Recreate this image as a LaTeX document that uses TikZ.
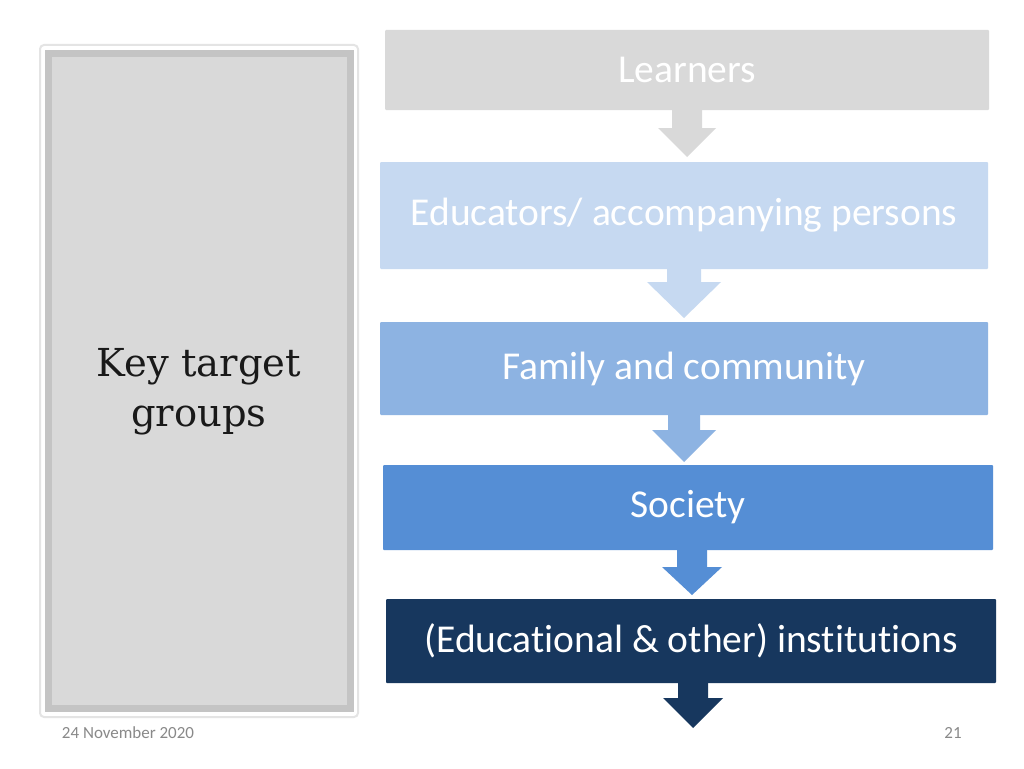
\documentclass[tikz,border=0pt]{standalone}
\usepackage{fontspec}
\setsansfont[Ligatures={NoCommon}]{Carlito}
\newfontfamily\keyfont{DejaVu Serif}
\usetikzlibrary{calc}
\definecolor{cLearn}{HTML}{D9D9D9}
\definecolor{cEdu}{HTML}{C6D9F1}
\definecolor{cFam}{HTML}{8DB3E2}
\definecolor{cSoc}{HTML}{558ED5}
\definecolor{cInst}{HTML}{17375E}
\definecolor{cBand}{HTML}{C4C4C4}
\definecolor{cFrame}{HTML}{E4E4E4}
\definecolor{cFoot}{HTML}{898989}
\tikzset{
  stage/.style={draw=none, inner sep=0pt, text=white, rounded corners=1pt,
    font=\sffamily\fontsize{39.5}{46}\selectfont},
  foot/.style={inner sep=0pt, text=cFoot, font=\sffamily\fontsize{17}{20}\selectfont},
}
% #1 from node, #2 tip coordinate, #3 colour, #4 shaft half width, #5 head half width, #6 head length
\newcommand\blockarrow[6]{%
  \fill[#3] ($(#2 |- #1.south)+(-#4,0)$) -- ($(#2 |- #1.south)+(#4,0)$)
    -- ($(#2)+(#4,-#6)$) -- ($(#2)+(#5,-#6)$) -- (#2)
    -- ($(#2)+(-#5,-#6)$) -- ($(#2)+(-#4,-#6)$) -- cycle;}
\begin{document}
\begin{tikzpicture}[x=1pt,y=-1pt]
\useasboundingbox[fill=white] (0,0) rectangle (1024,768);
% left panel
\draw[cFrame, line width=2pt, fill=white, rounded corners=4pt] (40,45) rectangle (358,717);
\fill[cBand] (45,50) rectangle (354,712);
\node[fill=cLearn, inner sep=0pt, minimum width=295, minimum height=648] (panel) at (199.5,381) {};
\node[align=center, inner sep=0pt, text=black!90, font=\keyfont\fontsize{38.5}{50}\selectfont] (kt) at (199,392) {Key target\\groups};
% stages
\node[stage, fill=cLearn, minimum width=604, minimum height=80] (b1) at (687,70) {Learners};
\node[stage, fill=cEdu, minimum width=608, minimum height=107] (b2) at (684,215.5) {Educators/ accompanying persons};
\node[stage, fill=cFam, minimum width=608, minimum height=93] (b3) at (684,368.5) {Family and community};
\node[stage, fill=cSoc, minimum width=610, minimum height=85] (b4) at (688,507.5) {Society};
\node[stage, fill=cInst, minimum width=610, minimum height=84] (b5) at (691,641) {(Educational \& other) institutions};
% arrow tips
\coordinate (t1) at (687,157);
\coordinate (t2) at (684,318);
\coordinate (t3) at (684,462);
\coordinate (t4) at (692,595);
\coordinate (t5) at (693,728);
\blockarrow{b1}{t1}{cLearn}{15}{29}{29}
\blockarrow{b2}{t2}{cEdu}{17}{37}{36}
\blockarrow{b3}{t3}{cFam}{16}{32}{32}
\blockarrow{b4}{t4}{cSoc}{15}{30}{28}
\blockarrow{b5}{t5}{cInst}{15}{30}{30}
% footer
\node[foot] (date) at (128,733) {24 November 2020};
\node[foot] (page) at (953,733) {21};
\end{tikzpicture}
\end{document}
